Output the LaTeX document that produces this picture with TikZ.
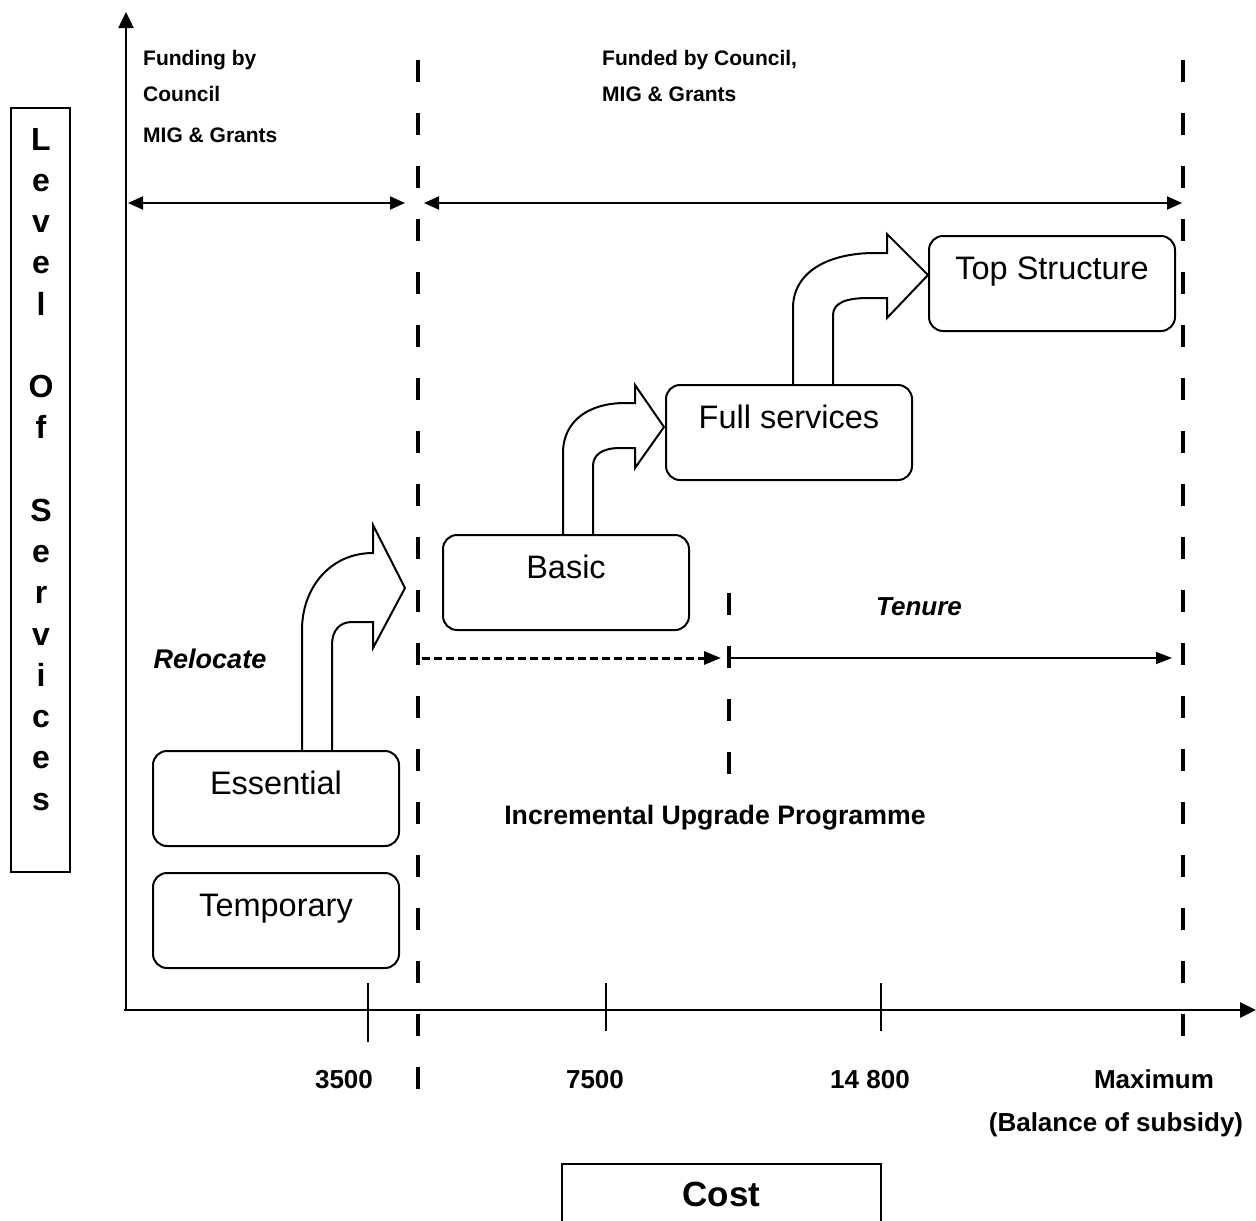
\documentclass[tikz,border=0pt]{standalone}
\usepackage{fontspec}
\setmainfont{Liberation Sans}
\usetikzlibrary{arrows.meta}

\begin{document}
\begin{tikzpicture}[x=1pt,y=-1pt,
  stage/.style={draw,line width=2pt,rounded corners=14pt,anchor=north west,
    minimum width=246pt,minimum height=95pt,inner ysep=19pt,
    text height=24pt,text depth=33pt,font=\fontsize{32.5}{36}\selectfont},
  note/.style={anchor=base west,inner sep=0pt,font=\bfseries\fontsize{21}{24}\selectfont},
  costlbl/.style={anchor=base,inner sep=0pt,font=\bfseries\fontsize{26}{30}\selectfont},
  divider/.style={line width=4pt,dash pattern=on 22pt off 31pt},
  bent/.style={line width=2pt,line join=miter},
  axisarrow/.style={-{Triangle[length=16pt,width=15pt]}},
  twohead/.style={{Triangle[length=15pt,width=13pt]}-{Triangle[length=15pt,width=13pt]}}]
  \useasboundingbox (0,0) rectangle (1256,1221);
  % Axes
  \coordinate (origin) at (126,1010);
  \coordinate (ytop) at (126,12);
  \coordinate (xend) at (1256,1010);
  \draw[line width=2.5pt,axisarrow] (origin) -- (ytop);
  \draw[line width=2.5pt,axisarrow] ([xshift=-2pt]origin) -- (xend);
  \draw[line width=1.5pt] (368,983) -- (368,1042);
  \foreach \x in {606,881} \draw[line width=1.5pt] (\x,983) -- (\x,1031);
  % Dividers
  \draw[divider] (418,60) -- (418,1090);
  \draw[divider] (1183,60) -- (1183,1040);
  \draw[divider] (729,593) -- (729,775);
  % Funding
  \node[note] (fund1) at (143,65) {Funding by};
  \node[note] (fund2) at (143,101) {Council};
  \node[note] (fund3) at (143,142) {MIG \& Grants};
  \node[note] (fund4) at (602,65) {Funded by Council,};
  \node[note] (fund5) at (602,101) {MIG \& Grants};
  \coordinate (fundL) at (128,203);
  \coordinate (fundM) at (405,203);
  \coordinate (fundN) at (424,203);
  \coordinate (fundR) at (1182,203);
  \draw[line width=2pt,twohead] (fundL) -- (fundM);
  \draw[line width=2pt,twohead] (fundN) -- (fundR);
  % Levels of service
  \node[stage] (temporary) at (152,872) {Temporary};
  \node[stage] (essential) at (152,750) {Essential};
  \node[stage] (basic) at (442,534) {Basic};
  \node[stage] (fullsvc) at (665,384) {Full services};
  \node[stage] (topstruct) at (928,235) {Top Structure};
  % Essential -> Basic
  \draw[bent] (302,750) -- (302,630) .. controls (302,588) and (330,553) .. (373,553)
    -- (373,525) -- (405,588) -- (373,648) -- (373,622) -- (352,622)
    .. controls (340,622) and (332,630) .. (332,645) -- (332,750);
  % Basic -> Full services
  \draw[bent] (563,534) -- (563,453) .. controls (563,420) and (590,403) .. (625,403)
    -- (635,403) -- (635,385) -- (664,427) -- (635,468) -- (635,448) -- (620,448)
    .. controls (602,448) and (593,455) .. (593,466) -- (593,534);
  % Full services -> Top Structure
  \draw[bent] (793,384) -- (793,308) .. controls (793,272) and (828,253) .. (875,253)
    -- (887,253) -- (887,234) -- (928,275) -- (887,318) -- (887,298) -- (868,298)
    .. controls (846,298) and (833,303) .. (833,315) -- (833,384);
  % Relocate / Tenure
  \coordinate (relA) at (422,658);
  \coordinate (relB) at (721,658);
  \coordinate (tenA) at (729,658);
  \coordinate (tenB) at (1172,658);
  \draw[line width=3pt,dash pattern=on 8pt off 4pt,-{Triangle[length=17pt,width=13pt]}] (relA) -- (relB);
  \draw[line width=1.5pt,-{Triangle[length=16pt,width=12pt]}] (tenA) -- (tenB);
  \node[anchor=base,inner sep=0pt,font=\bfseries\itshape\fontsize{27}{32}\selectfont] (relocate) at (210,668) {Relocate};
  \node[anchor=base,inner sep=0pt,font=\bfseries\itshape\fontsize{26}{32}\selectfont] (tenure) at (919,615) {Tenure};
  \node[anchor=base,inner sep=0pt,font=\bfseries\fontsize{26.7}{30}\selectfont] (iup) at (715,824) {Incremental Upgrade Programme};
  % Cost axis
  \node[costlbl] (c3500) at (344,1088) {3500};
  \node[costlbl] (c7500) at (595,1088) {7500};
  \node[costlbl] (c14800) at (870,1088) {14 800};
  \node[costlbl] (cmax) at (1154,1088) {Maximum};
  \node[costlbl] (cbal) at (1116,1131) {(Balance of subsidy)};
  \node[draw,line width=2pt,anchor=north,minimum width=319pt,inner ysep=18pt,
    text height=24pt,text depth=60pt,font=\bfseries\fontsize{35}{40}\selectfont] (cost) at (721.5,1163) {Cost};
  % Level of services
  \node[draw,line width=2pt,minimum width=59pt,minimum height=764pt,inner sep=0pt] (lvlbox) at (40.5,490) {};
  \node[align=center,anchor=north,inner sep=0pt,font=\bfseries\fontsize{32}{41.25}\selectfont] (lvltext) at (41,128)
    {L\\e\\v\\e\\l\\\mbox{}\\O\\f\\\mbox{}\\S\\e\\r\\v\\i\\c\\e\\s};
\end{tikzpicture}
\end{document}
